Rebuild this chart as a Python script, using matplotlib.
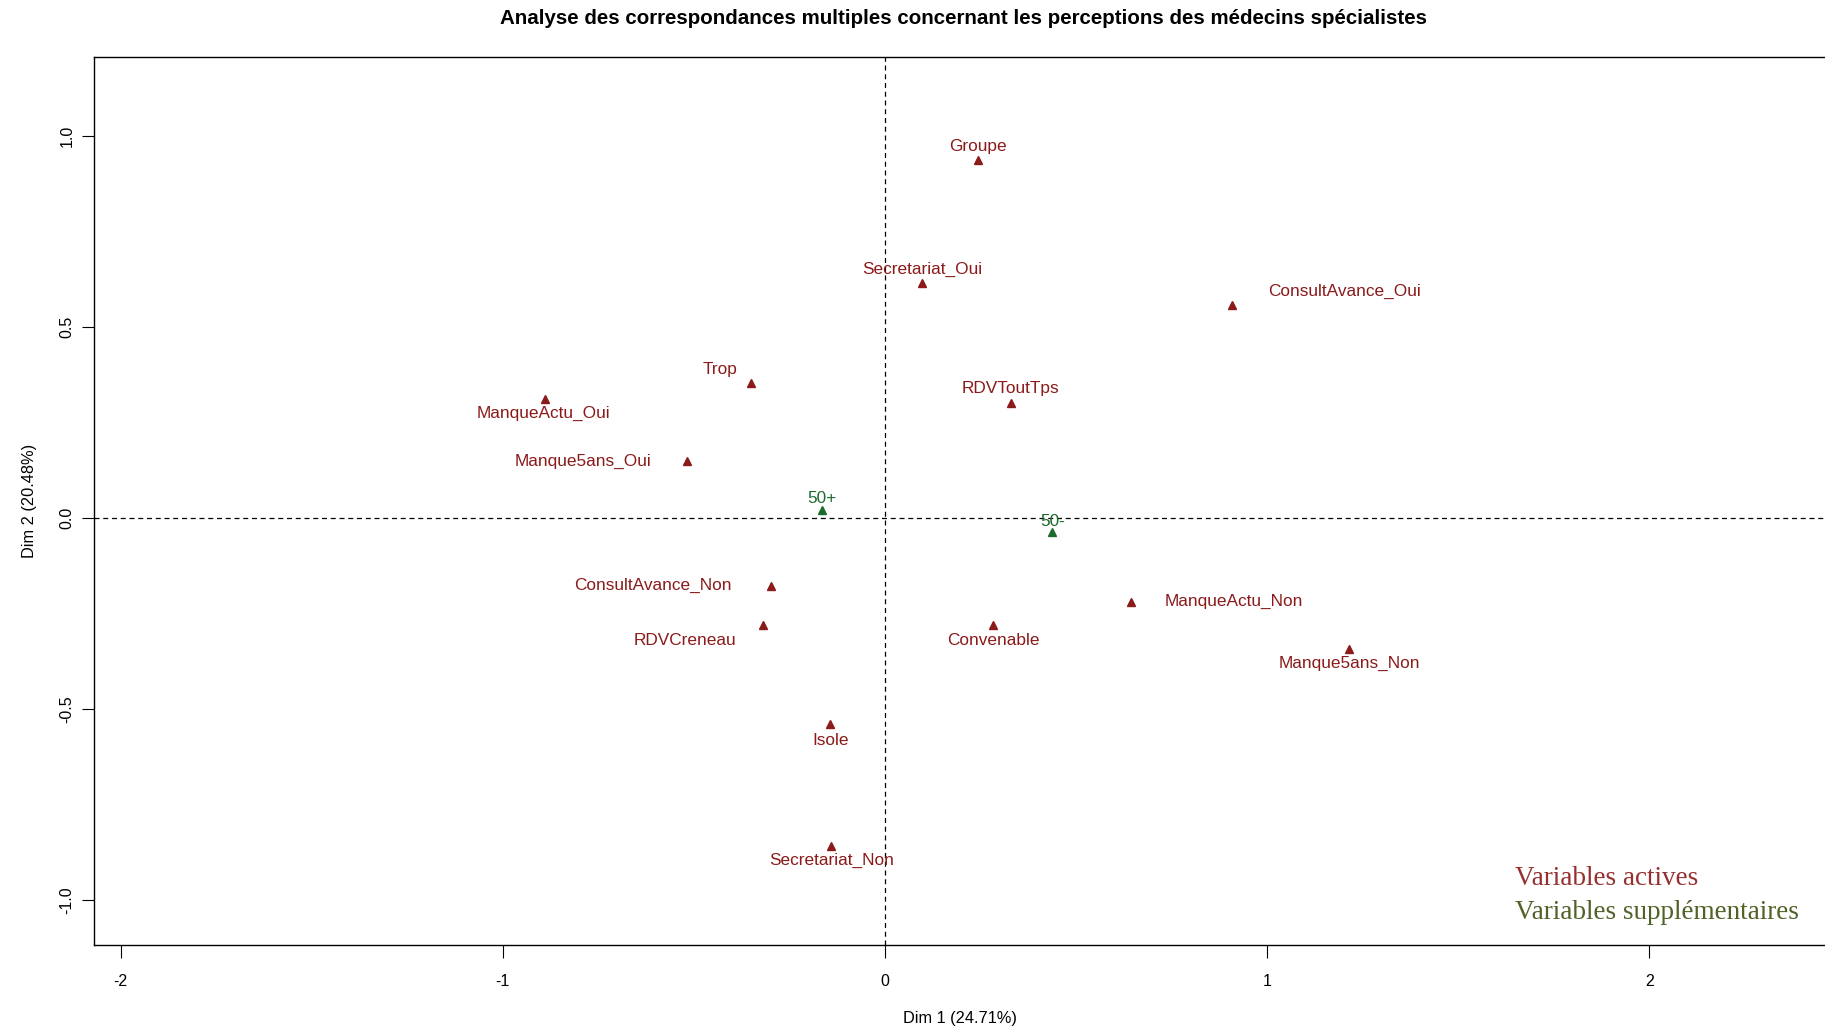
import matplotlib
matplotlib.use('Agg')
import matplotlib.pyplot as plt

# active categories (MCA coordinates, dim 1 / dim 2)
active_labels = [
    'Groupe', 'Secretariat_Oui', 'ConsultAvance_Oui', 'Trop', 'ManqueActu_Oui',
    'RDVToutTps', 'Manque5ans_Oui', 'ConsultAvance_Non', 'ManqueActu_Non',
    'RDVCreneau', 'Convenable', 'Manque5ans_Non', 'Isole', 'Secretariat_Non',
]
active_dim1 = [0.243, 0.097, 0.907, -0.350, -0.891, 0.329, -0.517, -0.298,
               0.645, -0.319, 0.283, 1.214, -0.143, -0.140]
active_dim2 = [0.935, 0.615, 0.557, 0.353, 0.311, 0.301, 0.149, -0.177,
               -0.219, -0.280, -0.280, -0.344, -0.539, -0.858]

# supplementary categories
supp_labels = ['50+', '50-']
supp_dim1 = [-0.164, 0.438]
supp_dim2 = [0.021, -0.037]

dim1_pct = 24.71
dim2_pct = 20.48

# label offsets in pixels (as placed by the original plot)
active_offsets = [(0, 14), (0, 13), (113, 13), (-31, 13), (-1, -14), (0, 14),
                  (-104, 0), (-118, 0), (102, 0), (-78, -16), (0, -16),
                  (0, -14), (0, -16), (0, -14)]
supp_offsets = [(0, 11), (0, 11)]

RED = '#8b1a1a'
GREEN = '#1e6b2e'

plt.rcParams['font.family'] = ['Liberation Sans', 'DejaVu Sans']

fig = plt.figure(figsize=(18.25, 10.30), dpi=100)
ax = fig.add_axes([0.0515, 0.0825, 0.9485, 0.8622])

ax.axhline(0, color='black', lw=0.9, ls=(0, (4, 3)), zorder=1)
ax.axvline(0, color='black', lw=0.9, ls=(0, (4, 3)), zorder=1)

ax.plot(active_dim1, active_dim2, ls='none', marker='^', ms=6, color=RED, zorder=3)
for lab, x, y, off in zip(active_labels, active_dim1, active_dim2, active_offsets):
    ax.annotate(lab, (x, y), xytext=off, textcoords='offset pixels',
                ha='center', va='center', color=RED, fontsize=12.4)

ax.plot(supp_dim1, supp_dim2, ls='none', marker='^', ms=6, color=GREEN, zorder=3)
for lab, x, y, off in zip(supp_labels, supp_dim1, supp_dim2, supp_offsets):
    ax.annotate(lab, (x, y), xytext=off, textcoords='offset pixels',
                ha='center', va='center', color=GREEN, fontsize=12.4)

ax.set_xlim(-2.07, 2.46)
ax.set_ylim(-1.117, 1.2055)
ax.set_xticks([-2, -1, 0, 1, 2])
ax.set_yticks([-1.0, -0.5, 0.0, 0.5, 1.0])
ax.set_xticklabels(['-2', '-1', '0', '1', '2'])
ax.set_yticklabels(['-1.0', '-0.5', '0.0', '0.5', '1.0'], rotation=90, va='center')
ax.tick_params(direction='out', length=9, width=0.8, labelsize=11.5, pad=12)
ax.tick_params(axis='y', pad=5)
ax.spines['right'].set_visible(False)
for s in ['left', 'top', 'bottom']:
    ax.spines[s].set_linewidth(1.0)

ax.set_xlabel(f'Dim 1 ({dim1_pct:.2f}%)', fontsize=11.8, labelpad=16)
ax.set_ylabel(f'Dim 2 ({dim2_pct:.2f}%)', fontsize=11.8, labelpad=16)

fig.suptitle('Analyse des correspondances multiples concernant les perceptions des médecins spécialistes',
             x=0.528, y=0.982, va='center', fontsize=14.8, fontweight='bold')

fig.text(0.830, 0.147, 'Variables actives', color='#963030',
         family=['Liberation Serif', 'DejaVu Serif'], fontsize=19.5, va='center')
fig.text(0.830, 0.114, 'Variables supplémentaires', color='#4f6228',
         family=['Liberation Serif', 'DejaVu Serif'], fontsize=19.5, va='center')

fig.savefig('out.png', dpi=100)
